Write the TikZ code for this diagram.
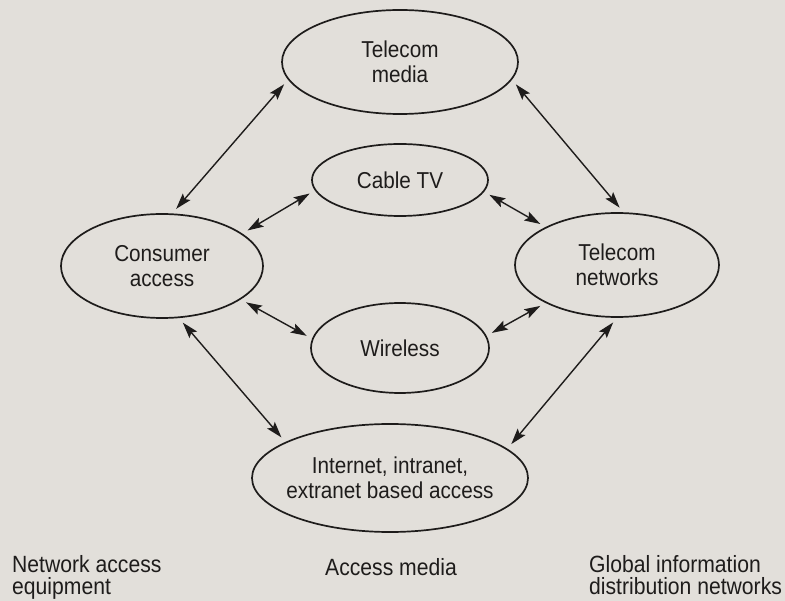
\documentclass[tikz,border=0pt]{standalone}
\usepackage{fontspec}
\setmainfont[FakeStretch=0.9]{Liberation Sans}
\usetikzlibrary{shapes.geometric,arrows.meta}
\definecolor{paper}{RGB}{226,223,218}
\definecolor{ink}{RGB}{30,28,27}
\tikzset{medium/.style={ellipse,draw=ink,line width=1.7pt,inner sep=0pt,align=center,text=ink,font=\fontsize{23}{25}\selectfont}}
\tikzset{link/.style={{Stealth[length=16pt,width=10pt,inset=3pt]}-{Stealth[length=16pt,width=10pt,inset=3pt]},draw=ink,line width=1.4pt,shorten <=6pt,shorten >=6pt}}
\tikzset{caption/.style={anchor=base west,align=left,inner sep=0pt,text=ink,font=\fontsize{23.5}{22.5}\selectfont}}

\begin{document}
\begin{tikzpicture}[x=1pt,y=-1pt,node distance=118pt]
\fill[paper](0,0)rectangle(785,601);
\useasboundingbox(0,0)rectangle(785,601);
\node[medium,minimum width=236pt,minimum height=104pt](tmed)at(400,62){Telecom\\media};
\node[medium,minimum width=176pt,minimum height=72pt](cable)[below of=tmed]{Cable TV};
\node[medium,minimum width=178pt,minimum height=90pt](wire)[below of=cable,node distance=168pt]{Wireless};
\node[medium,minimum width=276pt,minimum height=108pt,inner xsep=-12pt](inet)[below of=wire,node distance=130pt,xshift=-10pt]{Internet, intranet,\\extranet based access};
\node[medium,minimum width=202pt,minimum height=104pt](cons)at(162,266){Consumer\\access};
\node[medium,minimum width=204pt,minimum height=104pt](tnet)at(617,265){Telecom\\networks};
% links
\draw[link](cons.79)--(tmed.189);
\draw[link](tmed.351)--(tnet.83);
\draw[link](cons.22)--(cable.187);
\draw[link](cable.352)--(tnet.152);
\draw[link](cons.337)--(wire.174);
\draw[link](wire.8)--(tnet.208);
\draw[link](cons.288)--(inet.161);
\draw[link](tnet.270)--(inet.14);
% column captions
\node[caption](equip)at(12,594.5){Network access\\equipment};
\node[caption](media)at(325,575){Access media};
\node[caption](global)at(589,594.5){Global information\\distribution networks};
\end{tikzpicture}
\end{document}
